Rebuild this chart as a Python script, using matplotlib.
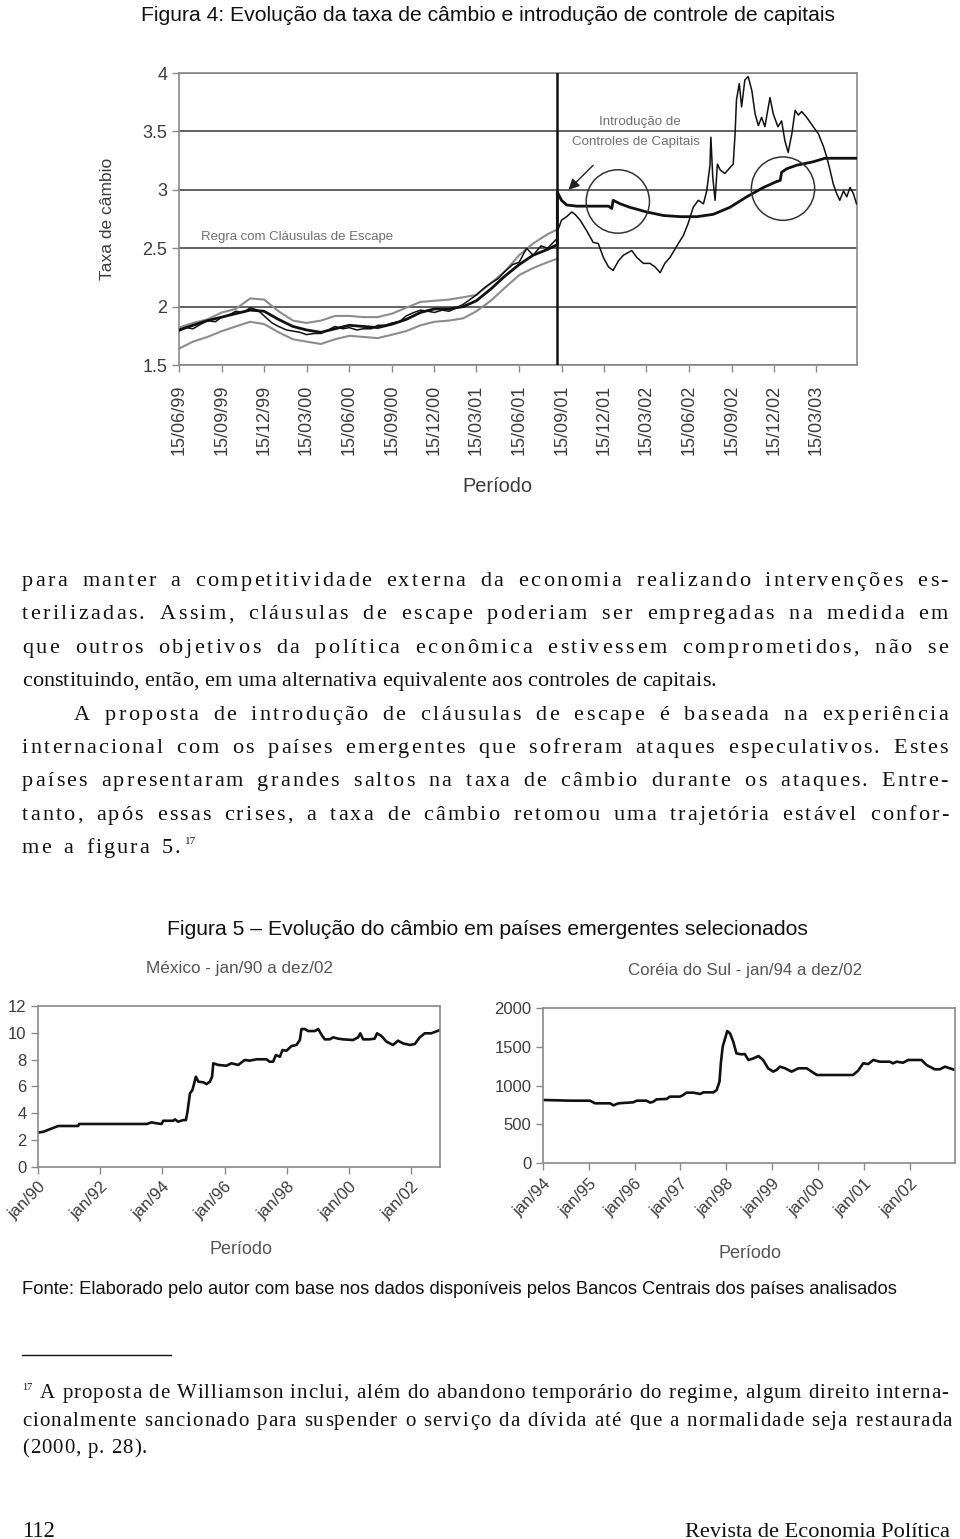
import numpy as np
import pandas as pd
import matplotlib
matplotlib.use("Agg")
import matplotlib.pyplot as plt
from matplotlib.patches import Ellipse
from matplotlib.font_manager import FontProperties
import matplotlib.dates as mdates

W, H = 960, 1539
SERIF = "Liberation Serif"
SANS = "Liberation Sans"
INK = "#111111"
GRAY = "#8c8c8c"
TICK_C = "#3c3c3c"

# ── Figura 4: taxa de câmbio (R$/US$) ────────────────────────────────────────
X_TICKS = ["15/06/99", "15/09/99", "15/12/99", "15/03/00", "15/06/00", "15/09/00",
           "15/12/00", "15/03/01", "15/06/01", "15/09/01", "15/12/01", "15/03/02",
           "15/06/02", "15/09/02", "15/12/02", "15/03/03"]
BREAK_DATE = "2001-09-05"

band_dates = ["1999-06-15", "1999-07-15", "1999-08-15", "1999-09-15", "1999-10-15",
              "1999-11-15", "1999-12-15", "2000-01-15", "2000-02-15", "2000-03-15",
              "2000-04-15", "2000-05-15", "2000-06-15", "2000-07-15", "2000-08-15",
              "2000-09-15", "2000-10-15", "2000-11-15", "2000-12-15", "2001-01-15",
              "2001-02-15", "2001-03-15", "2001-04-15", "2001-05-15", "2001-06-15",
              "2001-07-15", "2001-08-15", "2001-09-05"]
band_upper = [1.82, 1.86, 1.89, 1.95, 1.98, 2.07, 2.06, 1.96, 1.88, 1.86, 1.88, 1.92,
              1.92, 1.91, 1.91, 1.94, 1.99, 2.04, 2.05, 2.06, 2.08, 2.10, 2.20, 2.30,
              2.44, 2.54, 2.62, 2.66]
band_lower = [1.64, 1.70, 1.74, 1.79, 1.83, 1.87, 1.85, 1.78, 1.72, 1.70, 1.68, 1.72,
              1.75, 1.74, 1.73, 1.76, 1.79, 1.84, 1.87, 1.88, 1.90, 1.96, 2.05, 2.16,
              2.27, 2.33, 2.38, 2.41]
rule_pre = [1.80, 1.84, 1.88, 1.91, 1.94, 1.97, 1.96, 1.89, 1.83, 1.80, 1.78, 1.81,
            1.84, 1.83, 1.82, 1.85, 1.89, 1.95, 1.98, 1.98, 2.00, 2.05, 2.15, 2.26,
            2.36, 2.44, 2.49, 2.53]

rule_post_dates = ["2001-09-05", "2001-09-14", "2001-09-25", "2001-10-17", "2001-11-29",
                   "2001-12-24", "2001-12-31", "2002-01-03", "2002-01-18", "2002-02-08",
                   "2002-03-16", "2002-04-21", "2002-05-27", "2002-07-02", "2002-08-06",
                   "2002-09-11", "2002-10-17", "2002-11-22", "2002-12-20", "2002-12-28",
                   "2002-12-31", "2003-01-11", "2003-02-01", "2003-03-09", "2003-04-03",
                   "2003-06-10"]
rule_post = [2.98, 2.91, 2.87, 2.86, 2.86, 2.86, 2.84, 2.91, 2.88, 2.85, 2.81, 2.78,
             2.77, 2.77, 2.79, 2.85, 2.94, 3.02, 3.07, 3.08, 3.15, 3.18, 3.21, 3.24,
             3.27, 3.27]

actual_dates = ["1999-06-15", "1999-07-01", "1999-07-15", "1999-08-01", "1999-08-15",
                "1999-09-01", "1999-09-15", "1999-10-01", "1999-10-15", "1999-11-01",
                "1999-11-15", "1999-12-01", "1999-12-15", "2000-01-01", "2000-01-15",
                "2000-02-01", "2000-02-15", "2000-03-01", "2000-03-15", "2000-04-01",
                "2000-04-15", "2000-05-01", "2000-05-15", "2000-06-01", "2000-06-15",
                "2000-07-01", "2000-07-15", "2000-08-01", "2000-08-15", "2000-09-01",
                "2000-09-15", "2000-10-01", "2000-10-15", "2000-11-01", "2000-11-15",
                "2000-12-01", "2000-12-15", "2001-01-01", "2001-01-15", "2001-02-01",
                "2001-02-15", "2001-03-01", "2001-03-15", "2001-04-01", "2001-04-15",
                "2001-05-01", "2001-05-15", "2001-06-01", "2001-06-15", "2001-07-01",
                "2001-07-15", "2001-08-01", "2001-08-15", "2001-09-04",
                "2001-09-05", "2001-09-14", "2001-09-25", "2001-10-06", "2001-10-13",
                "2001-10-24", "2001-11-07", "2001-11-21", "2001-12-02", "2001-12-13",
                "2001-12-24", "2002-01-03", "2002-01-14", "2002-01-25", "2002-02-12",
                "2002-02-23", "2002-03-09", "2002-03-23", "2002-04-03", "2002-04-14",
                "2002-04-24", "2002-05-05", "2002-05-20", "2002-06-03", "2002-06-13",
                "2002-06-24", "2002-07-05", "2002-07-16", "2002-07-23", "2002-07-30",
                "2002-08-01", "2002-08-05", "2002-08-10", "2002-08-15", "2002-08-21",
                "2002-08-31", "2002-09-11", "2002-09-18", "2002-09-22", "2002-09-25",
                "2002-10-01", "2002-10-06", "2002-10-13", "2002-10-20", "2002-10-28",
                "2002-11-04", "2002-11-11", "2002-11-18", "2002-11-25", "2002-12-06",
                "2002-12-13", "2002-12-23", "2002-12-31", "2003-01-07", "2003-01-14",
                "2003-01-22", "2003-01-29", "2003-02-05", "2003-02-12", "2003-02-23",
                "2003-03-09", "2003-03-20", "2003-03-31", "2003-04-07", "2003-04-14",
                "2003-04-21", "2003-04-28", "2003-05-05", "2003-05-13", "2003-05-20",
                "2003-05-27", "2003-06-03", "2003-06-10"]
actual_vals = [1.79, 1.82, 1.81, 1.85, 1.88, 1.87, 1.91, 1.93, 1.96, 1.95, 1.99, 1.97,
               1.92, 1.86, 1.83, 1.80, 1.79, 1.78, 1.76, 1.77, 1.77, 1.80, 1.83, 1.81,
               1.82, 1.80, 1.81, 1.81, 1.84, 1.84, 1.86, 1.87, 1.92, 1.95, 1.97, 1.96,
               1.95, 1.97, 1.96, 1.99, 2.02, 2.06, 2.10, 2.16, 2.20, 2.24, 2.30, 2.36,
               2.38, 2.50, 2.44, 2.52, 2.50, 2.58,
               2.64, 2.74, 2.77, 2.81, 2.79, 2.74, 2.65, 2.55, 2.54, 2.42, 2.34, 2.31,
               2.39, 2.44, 2.48, 2.42, 2.37, 2.37, 2.34, 2.29, 2.37, 2.42, 2.52, 2.61,
               2.71, 2.85, 2.91, 2.88, 2.99, 3.21, 3.45, 3.11, 2.91, 3.22, 3.17, 3.14,
               3.19, 3.22, 3.48, 3.77, 3.91, 3.71, 3.94, 3.97, 3.85, 3.65, 3.55, 3.62,
               3.54, 3.79, 3.65, 3.54, 3.59, 3.42, 3.32, 3.48, 3.68, 3.64, 3.67, 3.62,
               3.54, 3.48, 3.37, 3.28, 3.17, 3.05, 2.97, 2.91, 2.99, 2.94, 3.02, 2.97,
               2.88]

# ── Figura 5: México (jan/90 a dez/02) ───────────────────────────────────────
MEX_TICKS = ["jan/90", "jan/92", "jan/94", "jan/96", "jan/98", "jan/00", "jan/02"]
mex_year = [1990.00, 1990.18, 1990.66, 1991.30, 1991.33, 1993.50, 1993.66, 1993.82,
            1993.98, 1994.03, 1994.35, 1994.41, 1994.51, 1994.67, 1994.76, 1994.81,
            1994.89, 1994.97, 1995.08, 1995.16, 1995.32, 1995.42, 1995.53, 1995.60,
            1995.64, 1995.80, 1996.06, 1996.22, 1996.44, 1996.65, 1996.81, 1997.03,
            1997.35, 1997.45, 1997.56, 1997.65, 1997.78, 1997.86, 1997.99, 1998.15,
            1998.31, 1998.42, 1998.47, 1998.58, 1998.68, 1998.90, 1999.01, 1999.12,
            1999.22, 1999.38, 1999.49, 1999.65, 1999.81, 2000.13, 2000.29, 2000.36,
            2000.45, 2000.66, 2000.82, 2000.90, 2001.04, 2001.20, 2001.41, 2001.57,
            2001.73, 2001.95, 2002.11, 2002.27, 2002.43, 2002.64, 2002.91]
mex_rate = [2.54, 2.61, 3.04, 3.04, 3.19, 3.19, 3.31, 3.24, 3.19, 3.43, 3.43, 3.53,
            3.36, 3.48, 3.48, 4.10, 5.48, 5.73, 6.72, 6.35, 6.30, 6.17, 6.35, 6.72,
            7.72, 7.60, 7.54, 7.72, 7.60, 7.97, 7.92, 8.02, 8.02, 7.84, 7.84, 8.34,
            8.21, 8.71, 8.66, 9.01, 9.09, 9.46, 10.28, 10.28, 10.13, 10.13, 10.28, 9.83,
            9.51, 9.51, 9.66, 9.56, 9.51, 9.46, 9.66, 9.96, 9.51, 9.51, 9.56, 9.96,
            9.76, 9.34, 9.09, 9.41, 9.21, 9.09, 9.16, 9.66, 9.96, 9.96, 10.20]

# ── Figura 5: Coréia do Sul (jan/94 a dez/02) ────────────────────────────────
KOR_TICKS = ["jan/94", "jan/95", "jan/96", "jan/97", "jan/98", "jan/99", "jan/00",
             "jan/01", "jan/02"]
kor_year = [1994.00, 1994.60, 1995.03, 1995.14, 1995.47, 1995.54, 1995.65, 1995.97,
            1996.05, 1996.26, 1996.34, 1996.41, 1996.48, 1996.70, 1996.77, 1996.99,
            1997.06, 1997.13, 1997.28, 1997.43, 1997.50, 1997.72, 1997.79, 1997.85,
            1997.88, 1997.92, 1998.02, 1998.08, 1998.15, 1998.22, 1998.33, 1998.40,
            1998.48, 1998.59, 1998.70, 1998.80, 1998.91, 1999.02, 1999.09, 1999.17,
            1999.28, 1999.42, 1999.57, 1999.75, 1999.86, 1999.97, 2000.11, 2000.76,
            2000.87, 2000.98, 2001.09, 2001.20, 2001.34, 2001.56, 2001.63, 2001.71,
            2001.85, 2001.96, 2002.25, 2002.36, 2002.54, 2002.65, 2002.76, 2002.98]
kor_rate = [814, 805, 805, 771, 771, 745, 771, 784, 805, 805, 780, 792, 822, 827, 857,
            857, 878, 908, 908, 891, 912, 912, 942, 1049, 1285, 1499, 1700, 1670, 1563,
            1413, 1400, 1405, 1328, 1349, 1379, 1328, 1221, 1178, 1199, 1242, 1221,
            1178, 1221, 1221, 1178, 1135, 1135, 1135, 1191, 1285, 1276, 1328, 1306,
            1306, 1285, 1306, 1293, 1328, 1328, 1263, 1208, 1208, 1242, 1199]

# ── Page text: (line, right edge in px or None for natural width) ────────────
BODY = [
    ("para manter a competitividade externa da economia realizando intervenções es-", 948),
    ("terilizadas. Assim, cláusulas de escape poderiam ser empregadas na medida em", 948),
    ("que outros objetivos da política econômica estivessem comprometidos, não se", 948),
    ("constituindo, então, em uma alternativa equivalente aos controles de capitais.", None),
    ("A proposta de introdução de cláusulas de escape é baseada na experiência", 948),
    ("internacional com os países emergentes que sofreram ataques especulativos. Estes", 948),
    ("países apresentaram grandes saltos na taxa de câmbio durante os ataques. Entre-", 948),
    ("tanto, após essas crises, a taxa de câmbio retomou uma trajetória estável confor-", 948),
    ("me a figura 5.", 180),
]
FOOT = [
    ("A proposta de Williamson inclui, além do abandono temporário do regime, algum direito interna-", 948),
    ("cionalmente sancionado para suspender o serviço da dívida até que a normalidade seja restaurada", 952),
    ("(2000, p. 28).", None),
]

fig = plt.figure(figsize=(W / 100, H / 100), dpi=100)
fig.patch.set_facecolor("white")
renderer = fig.canvas.get_renderer()


def fx(x):
    return x / W


def fy(y):
    return 1 - y / H


def text_w(s, fp):
    w, _, _ = renderer.get_text_width_height_descent(s, fp, ismath=False)
    return w


def fit(s, family, width, **kw):
    fp = FontProperties(family=family, size=20, **kw)
    return 20 * width / text_w(s, fp)


_adv = {}


def adv(c, fp):
    key = (c, fp.get_size_in_points(), fp.get_family()[0])
    if key not in _adv:
        _adv[key] = text_w("n" + c + "n", fp) - text_w("nn", fp)
    return _adv[key]


def line(s, x0, y, fp, track, x1=None, color=INK):
    a = [adv(c, fp) for c in s]
    nsp = s.count(" ")
    gaps = len(s) - 1
    natural = sum(a) + track * gaps
    g_letter = g_space = 0.0
    if x1 is not None:
        extra = (x1 - x0) - natural
        unit = extra / (gaps + 2 * nsp)
        g_letter, g_space = unit, 3 * unit
    x = x0
    for c, w in zip(s, a):
        if c != " ":
            fig.text(fx(x), fy(y), c, fontproperties=fp, color=color,
                     ha="left", va="baseline")
        x += w + track + (g_space if c == " " else g_letter)
    return x


# captions
cap4 = "Figura 4: Evolução da taxa de câmbio e introdução de controle de capitais"
fig.text(fx(141), fy(21), cap4, family=SANS, color=INK, ha="left", va="baseline",
         fontsize=fit(cap4, SANS, 692))
cap5 = "Figura 5 – Evolução do câmbio em países emergentes selecionados"
fig.text(fx(167), fy(935), cap5, family=SANS, color=INK, ha="left", va="baseline",
         fontsize=fit(cap5, SANS, 641))
fonte = ("Fonte: Elaborado pelo autor com base nos dados disponíveis pelos Bancos "
         "Centrais dos países analisados")
fig.text(fx(22), fy(1294), fonte, family=SANS, color=INK, ha="left", va="baseline",
         fontsize=fit(fonte, SANS, 875))

# body paragraphs
fp_body = FontProperties(family=SERIF, size=16)
ref = BODY[3][0]
track_body = (694 - sum(adv(c, fp_body) for c in ref)) / (len(ref) - 1)
for i, (s, x1) in enumerate(BODY):
    x0 = 74 if i == 4 else 22
    xe = line(s, x0, 586 + i * 33.4, fp_body, track_body, x1)
fig.text(fx(xe + 3), fy(586 + 8 * 33.4 - 9), "17", family=SERIF, fontsize=8,
         color=INK, ha="left", va="baseline")

# footnote
fig.add_artist(plt.Line2D([fx(22), fx(171)], [fy(1355), fy(1355)], color=INK, lw=1.0))
fp_foot = FontProperties(family=SERIF, size=15)
ref = FOOT[2][0]
track_foot = (125 - sum(adv(c, fp_foot) for c in ref)) / (len(ref) - 1)
fig.text(fx(22), fy(1390), "17", family=SERIF, fontsize=7.5, color=INK,
         ha="left", va="baseline")
for i, (s, x1) in enumerate(FOOT):
    x0 = 40 if i == 0 else 22
    line(s, x0, 1398 + i * 27.5, fp_foot, track_foot, x1)

fig.text(fx(22), fy(1537), "112", family=SERIF, fontsize=fit("112", SERIF, 33),
         color=INK, ha="left", va="baseline")
fig.text(fx(950), fy(1537), "Revista de Economia Política", family=SERIF,
         fontsize=fit("Revista de Economia Política", SERIF, 265), color=INK,
         ha="right", va="baseline")


def style_axes(ax, edge="#8a8a8a"):
    for sp in ax.spines.values():
        sp.set_color(edge)
        sp.set_linewidth(1.2)
    ax.tick_params(colors=edge, labelcolor=TICK_C, length=5, width=1.0)
    ax.set_facecolor("white")
    for lab in ax.get_xticklabels() + ax.get_yticklabels():
        lab.set_family(SANS)


# ── top chart ────────────────────────────────────────────────────────────────
ax = fig.add_axes([fx(179), fy(365), 678 / W, 292 / H])
bd = pd.to_datetime(band_dates)
ax.plot(bd, band_upper, color=GRAY, lw=1.5, zorder=3)
ax.plot(bd, band_lower, color=GRAY, lw=1.5, zorder=3)
ax.plot(pd.to_datetime(actual_dates), actual_vals, color=INK, lw=1.1, zorder=4)
ax.plot(pd.to_datetime(band_dates + rule_post_dates), rule_pre + rule_post,
        color=INK, lw=2.0, zorder=4)
ax.axvline(pd.Timestamp(BREAK_DATE), color=INK, lw=1.8, zorder=5)
ax.set_ylim(1.5, 4.0)
ax.set_yticks([1.5, 2, 2.5, 3, 3.5, 4])
ax.set_yticklabels(["1.5", "2", "2.5", "3", "3.5", "4"], fontsize=13)
ax.grid(axis="y", color="#555555", lw=1.3)
ax.set_axisbelow(True)
xt = pd.to_datetime(X_TICKS, format="%d/%m/%y")
ax.set_xlim(pd.Timestamp("1999-06-15"), pd.Timestamp("2003-06-11"))
ax.set_xticks(xt)
ax.set_xticklabels(X_TICKS, rotation=90, fontsize=13)
ax.tick_params(axis="x", pad=9)
style_axes(ax)
ax.set_ylabel("Taxa de câmbio", family=SANS, fontsize=12.5, color=TICK_C, labelpad=20)
ax.text(0.47, -0.415, "Período", transform=ax.transAxes, family=SANS,
        fontsize=fit("Período", SANS, 70), color=TICK_C, ha="center", va="center")

ax.text(0.032, 0.439, "Regra com Cláusulas de Escape", transform=ax.transAxes,
        family=SANS, fontsize=fit("Regra com Cláusulas de Escape", SANS, 193),
        color="#707070", ha="left", va="center")
fs_ann = fit("Controles de Capitais", SANS, 128)
ax.text(0.680, 0.832, "Introdução de", transform=ax.transAxes, family=SANS,
        fontsize=fs_ann, color="#707070", ha="center", va="center")
ax.text(0.674, 0.763, "Controles de Capitais", transform=ax.transAxes, family=SANS,
        fontsize=fs_ann, color="#707070", ha="center", va="center")
ax.annotate("", xy=(mdates.date2num(pd.Timestamp("2001-09-29")), 3.0),
            xytext=(mdates.date2num(pd.Timestamp("2001-11-21")), 3.21),
            arrowprops=dict(arrowstyle="-|>", color="#222222", lw=1.0,
                            mutation_scale=16, shrinkA=0, shrinkB=0))
for c_date, c_val in [("2002-01-13", 2.90), ("2003-01-03", 3.01)]:
    ax.add_patch(Ellipse((mdates.date2num(pd.Timestamp(c_date)), c_val),
                         width=136, height=0.543, fill=False, ec="#333333",
                         lw=1.1, zorder=6))


def year_pos(labels):
    out = []
    for s in labels:
        yy = int(s[-2:])
        out.append(yy + (1900 if yy > 50 else 2000))
    return out


def small_chart(rect, xs, ys, xlim, ylim, yticks, ticks, title, title_xy,
                per_xy, title_w):
    a = fig.add_axes(rect)
    a.plot(xs, ys, color=INK, lw=1.9)
    a.set_xlim(*xlim)
    a.set_ylim(*ylim)
    a.set_yticks(yticks)
    a.set_yticklabels([str(v) for v in yticks], fontsize=12)
    a.set_xticks(year_pos(ticks))
    a.set_xticklabels(ticks, rotation=45, ha="right", va="top",
                      rotation_mode="anchor", fontsize=12)
    a.tick_params(axis="x", pad=4)
    a.tick_params(axis="y", pad=3)
    style_axes(a)
    fig.text(fx(title_xy[0]), fy(title_xy[1]), title, family=SANS,
             fontsize=fit(title, SANS, title_w), color="#555555",
             ha="center", va="center")
    fig.text(fx(per_xy[0]), fy(per_xy[1]), "Período", family=SANS,
             fontsize=fit("Período", SANS, 63), color="#555555",
             ha="center", va="center")
    return a


small_chart([fx(37.7), fy(1166.7), 402.3 / W, 160.7 / H], mex_year, mex_rate,
            (1990.0, 2002.92), (0, 12), [0, 2, 4, 6, 8, 10, 12], MEX_TICKS,
            "México - jan/90 a dez/02", (239, 969), (241, 1250), 187)
small_chart([fx(542.7), fy(1163.3), 412.3 / W, 155.6 / H], kor_year, kor_rate,
            (1994.0, 2002.98), (0, 2000), [0, 500, 1000, 1500, 2000], KOR_TICKS,
            "Coréia do Sul - jan/94 a dez/02", (745, 970), (750, 1253), 233)

fig.savefig("out.png", dpi=100, facecolor="white")
